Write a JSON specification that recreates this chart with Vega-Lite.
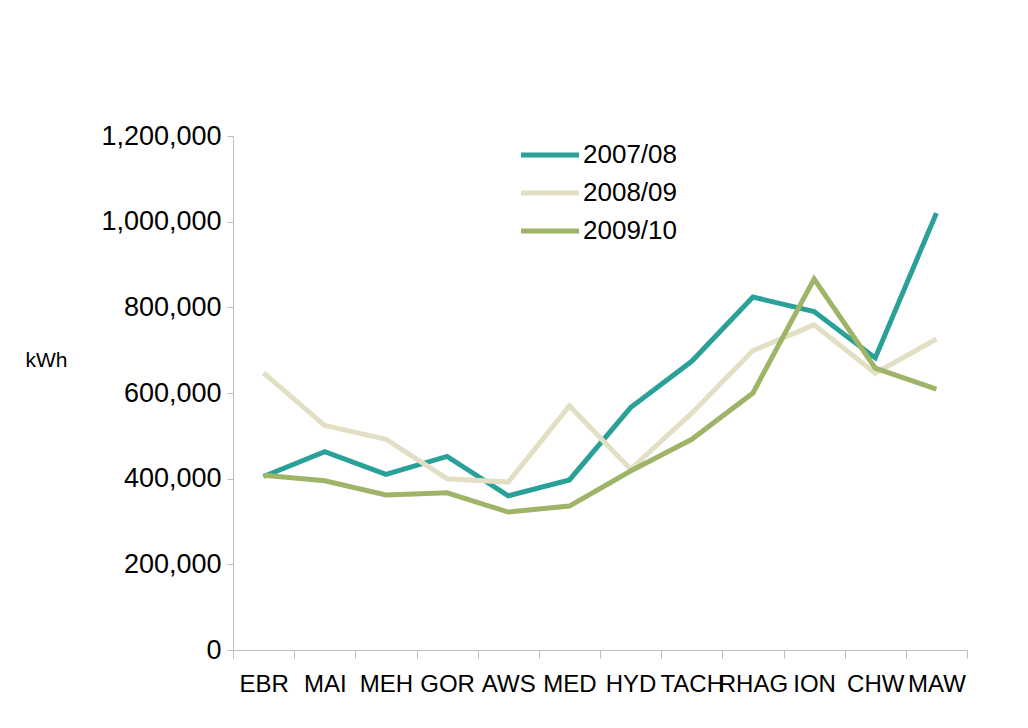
{
  "$schema": "https://vega.github.io/schema/vega-lite/v6.json",
  "autosize": "none",
  "width": 734,
  "height": 514,
  "padding": {"left": 233, "top": 136, "right": 61, "bottom": 78},
  "background": "white",
  "config": {
    "font": "Liberation Sans",
    "view": {"stroke": null}
  },
  "data": {
    "values": [
      {"site": "EBR", "year": "2007/08", "kwh": 405000},
      {"site": "MAI", "year": "2007/08", "kwh": 463000},
      {"site": "MEH", "year": "2007/08", "kwh": 410000},
      {"site": "GOR", "year": "2007/08", "kwh": 452000},
      {"site": "AWS", "year": "2007/08", "kwh": 360000},
      {"site": "MED", "year": "2007/08", "kwh": 397000},
      {"site": "HYD", "year": "2007/08", "kwh": 566000},
      {"site": "TACH", "year": "2007/08", "kwh": 674000},
      {"site": "RHAG", "year": "2007/08", "kwh": 824000},
      {"site": "ION", "year": "2007/08", "kwh": 790000},
      {"site": "CHW", "year": "2007/08", "kwh": 682000},
      {"site": "MAW", "year": "2007/08", "kwh": 1020000},
      {"site": "EBR", "year": "2008/09", "kwh": 647000},
      {"site": "MAI", "year": "2008/09", "kwh": 524000},
      {"site": "MEH", "year": "2008/09", "kwh": 492000},
      {"site": "GOR", "year": "2008/09", "kwh": 400000},
      {"site": "AWS", "year": "2008/09", "kwh": 392000},
      {"site": "MED", "year": "2008/09", "kwh": 570000},
      {"site": "HYD", "year": "2008/09", "kwh": 422000},
      {"site": "TACH", "year": "2008/09", "kwh": 553000},
      {"site": "RHAG", "year": "2008/09", "kwh": 699000},
      {"site": "ION", "year": "2008/09", "kwh": 759000},
      {"site": "CHW", "year": "2008/09", "kwh": 646000},
      {"site": "MAW", "year": "2008/09", "kwh": 726000},
      {"site": "EBR", "year": "2009/10", "kwh": 408000},
      {"site": "MAI", "year": "2009/10", "kwh": 395000},
      {"site": "MEH", "year": "2009/10", "kwh": 362000},
      {"site": "GOR", "year": "2009/10", "kwh": 367000},
      {"site": "AWS", "year": "2009/10", "kwh": 322000},
      {"site": "MED", "year": "2009/10", "kwh": 336000},
      {"site": "HYD", "year": "2009/10", "kwh": 418000},
      {"site": "TACH", "year": "2009/10", "kwh": 492000},
      {"site": "RHAG", "year": "2009/10", "kwh": 600000},
      {"site": "ION", "year": "2009/10", "kwh": 866000},
      {"site": "CHW", "year": "2009/10", "kwh": 658000},
      {"site": "MAW", "year": "2009/10", "kwh": 609000}
    ]
  },
  "mark": {"type": "line", "strokeWidth": 5, "strokeJoin": "miter", "strokeCap": "butt"},
  "encoding": {
    "x": {
      "field": "site",
      "type": "nominal",
      "sort": null,
      "bandPosition": 0.5,
      "scale": {"type": "band", "paddingInner": 0, "paddingOuter": 0},
      "axis": {
        "title": null,
        "labelAngle": 0,
        "labelFontSize": 24,
        "labelColor": "black",
        "labelPadding": 14,
        "tickBand": "extent",
        "tickSize": 8,
        "tickColor": "#BFBFBF",
        "domainColor": "#BFBFBF",
        "labelOverlap": false,
        "grid": false
      }
    },
    "y": {
      "field": "kwh",
      "type": "quantitative",
      "scale": {"domain": [0, 1200000], "nice": false},
      "axis": {
        "values": [0, 200000, 400000, 600000, 800000, 1000000, 1200000],
        "format": ",.0f",
        "grid": false,
        "labelFontSize": 27,
        "labelColor": "black",
        "labelPadding": 6,
        "tickSize": 6,
        "tickColor": "#BFBFBF",
        "domainColor": "#BFBFBF",
        "title": "kWh",
        "titleAngle": 0,
        "titleFontSize": 21,
        "titleFontWeight": "normal",
        "titleColor": "black",
        "titleAlign": "left",
        "titleBaseline": "middle",
        "titleX": -208,
        "titleY": 224
      }
    },
    "color": {
      "field": "year",
      "type": "nominal",
      "scale": {"domain": ["2007/08", "2008/09", "2009/10"], "range": ["#2AA198", "#E2DFC4", "#9EB467"]},
      "legend": {
        "title": null,
        "orient": "none",
        "legendX": 300,
        "legendY": 2,
        "symbolType": "M-2,0H2",
        "symbolSize": 841,
        "symbolStrokeWidth": 5,
        "labelFontSize": 26,
        "labelColor": "black",
        "labelOffset": 16,
        "rowPadding": 8
      }
    }
  }
}
